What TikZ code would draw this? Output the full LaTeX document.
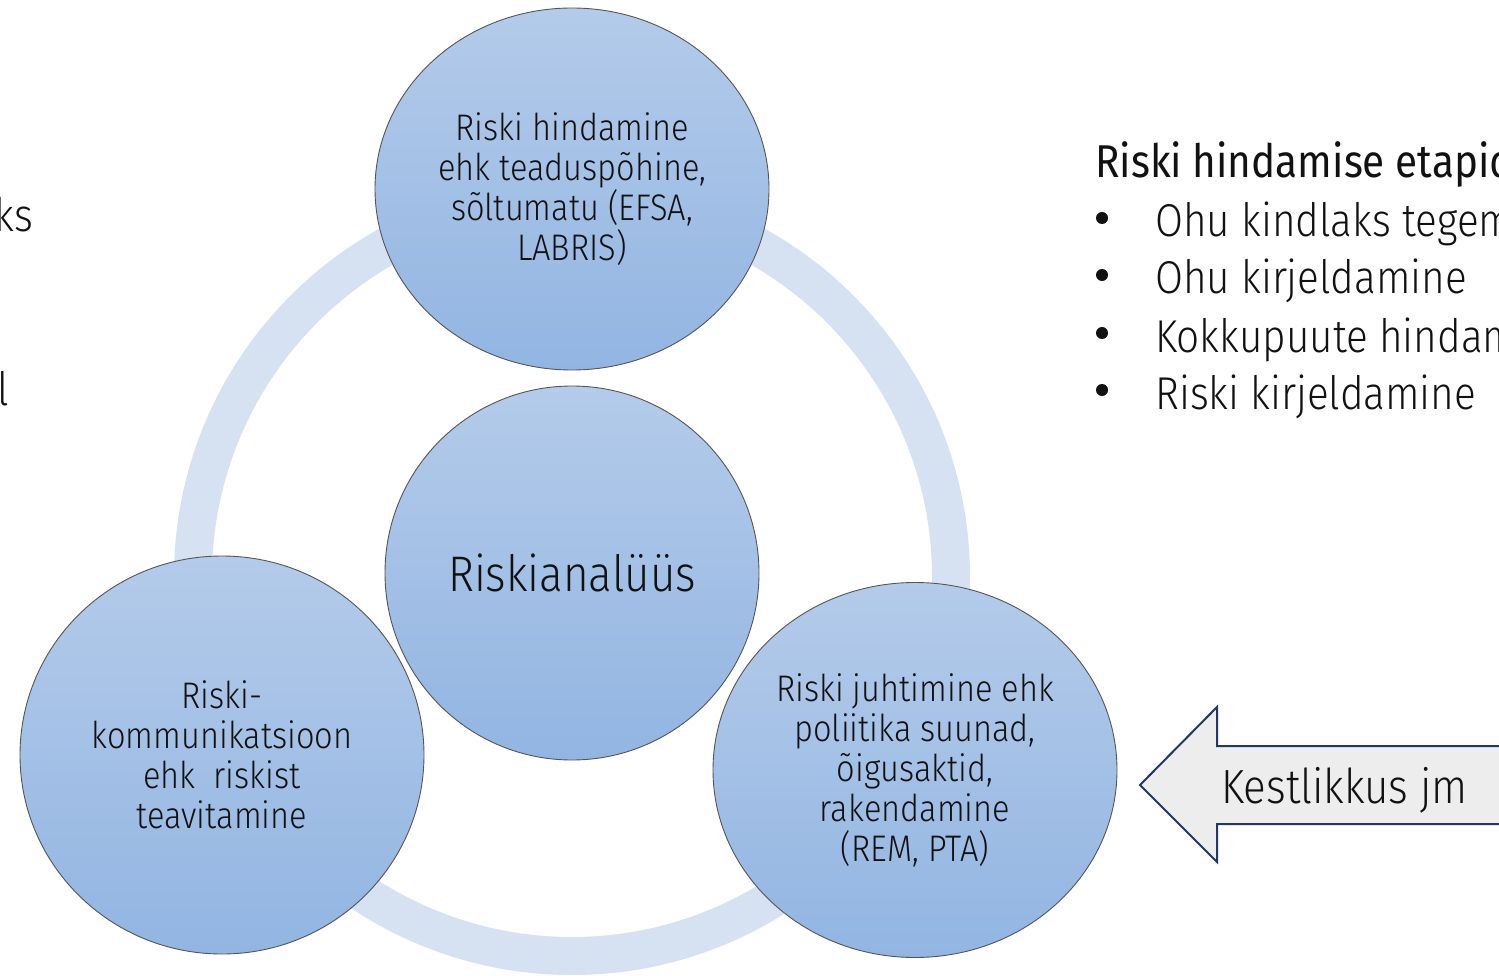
\documentclass[tikz,border=0pt]{standalone}
\usepackage{fontspec}
\setmainfont{Fira Sans}[FakeStretch=0.88]
\newfontfamily\lightf{Fira Sans Light}[FakeStretch=0.88]
\usetikzlibrary{shapes.geometric}
\definecolor{ringc}{HTML}{D6E1F2}
\definecolor{ctop}{HTML}{B4CBEA}
\definecolor{cbot}{HTML}{92B5E2}
\definecolor{cedge}{HTML}{555555}
\definecolor{arrowfill}{HTML}{EDEDED}
\definecolor{arrowedge}{HTML}{1F3864}
\definecolor{txt}{HTML}{111111}
\tikzset{
  blob/.style={ellipse, draw=cedge, line width=0.9pt, top color=ctop, bottom color=cbot, inner sep=0pt, text=txt, align=center},
  ctext/.style={font=\lightf\fontsize{37}{40}\selectfont},
  listtext/.style={anchor=base west, inner sep=0pt, text=txt, font=\lightf\fontsize{46}{58}\selectfont},
  bulletdot/.style={circle, fill=txt, inner sep=0pt, minimum size=12pt},
}
\begin{document}
\begin{tikzpicture}[x=1pt,y=-1pt]
\useasboundingbox (0,0) rectangle (1499,976);
\clip (0,0) rectangle (1499,976);
\fill[white] (0,0) rectangle (1499,976);
% ring
\draw[ringc, line width=38pt] (572,577) circle[radius=379pt];
% circles
\node[blob, minimum width=374pt, minimum height=374pt, font=\lightf\fontsize{50}{58}\selectfont] (center) at (572,573) {Riskianalüüs};
\node[blob, ctext, minimum width=394pt, minimum height=362pt] (top) at (572,189)
  {Riski hindamine\\ehk teaduspõhine,\\sõltumatu (EFSA,\\LABRIS)};
\node[blob, ctext, minimum width=404pt, minimum height=398pt] (left) at (222,755)
  {Riski-\\kommunikatsioon\\ehk\ \ riskist\\teavitamine};
\node[blob, ctext, minimum width=404pt, minimum height=375pt] (right) at (915,770)
  {Riski juhtimine ehk\\poliitika suunad,\\õigusaktid,\\rakendamine\\(REM, PTA)};
% arrow
\draw[fill=arrowfill, draw=arrowedge, line width=2pt, line join=miter]
  (1140,785) coordinate (tip) -- (1217,707) -- (1217,746) -- (1520,746) -- (1520,824) -- (1217,824) -- (1217,862) -- cycle;
\node[anchor=base west, inner sep=0pt, text=txt, font=\lightf\fontsize{48}{50}\selectfont] (kest) at (1221,803) {Kestlikkus jm};
% right list
\node[anchor=base west, inner sep=0pt, text=txt, font=\fontsize{46}{56}\selectfont] (head) at (1095,178) {Riski hindamise etapid:};
\node[bulletdot] (b1) at (1102,218) {};
\node[listtext] (l1) at (1155,237) {Ohu kindlaks tegemine};
\node[bulletdot] (b2) at (1102,275) {};
\node[listtext] (l2) at (1155,294) {Ohu kirjeldamine};
\node[bulletdot] (b3) at (1102,333) {};
\node[listtext] (l3) at (1155,352) {Kokkupuute hindamine};
\node[bulletdot] (b4) at (1102,390) {};
\node[listtext] (l4) at (1155,409) {Riski kirjeldamine};
% clipped left texts
\node[listtext, anchor=base east] (lk) at (33,232) {ks};
\node[listtext, anchor=base east] (ll) at (9,405) {l};
\end{tikzpicture}
\end{document}
